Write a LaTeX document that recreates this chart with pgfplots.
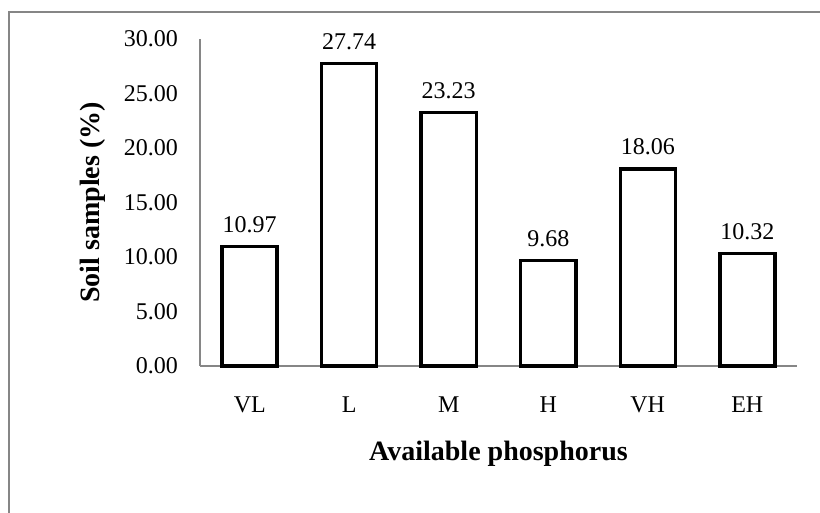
\documentclass[border=0pt]{standalone}
\usepackage{pgfplots}
\pgfplotsset{compat=1.18}
\usepackage{fontspec}
\setmainfont{Liberation Serif}
\definecolor{axgray}{RGB}{134,134,134}
\begin{document}
\fontsize{24bp}{29bp}\selectfont
\begin{tikzpicture}[x=1bp,y=1bp]
\path[use as bounding box] (0,0) rectangle (820,513);
\draw[axgray, line width=1.5bp] (9,0) -- (9,501) -- (820,501);
\begin{axis}[
  at={(201,135)}, anchor=south west,
  scale only axis, width=597bp, height=327bp,
  xmin=-0.5, xmax=5.5, ymin=0, ymax=30,
  axis lines=left,
  axis line style={-, draw=axgray, line width=1.5bp},
  major tick length=0pt,
  xtick={0,1,2,3,4,5},
  xticklabels={VL,L,M,H,VH,EH},
  ytick={0,5,10,15,20,25,30},
  /pgf/number format/assume math mode=true,
  /pgf/number format/.cd, fixed, fixed zerofill, precision=2, /pgfplots/.cd,
  yticklabel style={xshift=-14bp},
  xticklabel style={yshift=-23bp},
  ylabel={\textbf{Soil samples (\%)}},
  xlabel={\textbf{Available phosphorus}},
  ylabel style={font=\fontsize{28bp}{33bp}\selectfont, yshift=2bp},
  xlabel style={font=\fontsize{28bp}{33bp}\selectfont, yshift=-12bp},
  ybar, bar width=55bp,
  nodes near coords,
  every node near coord/.append style={yshift=4bp},
  clip=false,
]
\addplot[draw=black, fill=white, line width=3.5bp] coordinates {(0,10.97) (1,27.74) (2,23.23) (3,9.68) (4,18.06) (5,10.32)};
\end{axis}
\end{tikzpicture}
\end{document}
